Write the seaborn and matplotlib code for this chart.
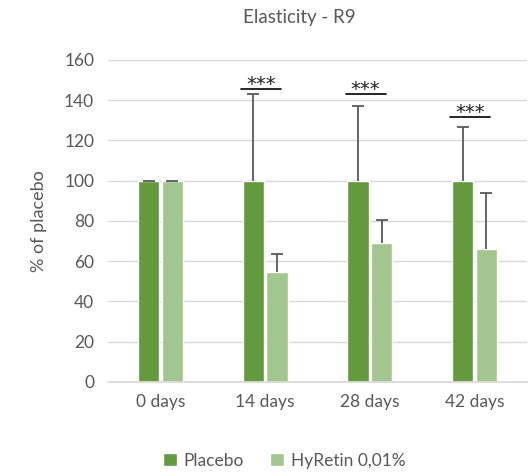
import matplotlib
matplotlib.use("Agg")
import matplotlib.pyplot as plt
import seaborn as sns
import pandas as pd
import numpy as np

categories = ["0 days", "14 days", "28 days", "42 days"]
placebo = [100, 100, 100, 100]
placebo_err = [0, 43.3, 37.0, 26.5]
hyretin = [100, 54.6, 68.8, 66.0]
hyretin_err = [0, 9.1, 11.8, 27.7]
series = ["Placebo", "HyRetin 0,01%"]
sig_levels = [None, 145.6, 143.3, 131.7]
sig_text = "***"

sns.set_theme(style="white")
plt.rcParams['font.family'] = ['Lato', 'DejaVu Sans']

df = pd.DataFrame({
    "cat": categories * 2,
    "val": placebo + hyretin,
    "series": [series[0]] * 4 + [series[1]] * 4,
})

colors = ["#639A3E", "#A3C58F"]
fig = plt.figure(figsize=(5.3, 4.72), dpi=100)
ax = fig.add_axes([0.204, 0.191, 0.79, 0.682])
width = 0.45
sns.barplot(data=df, x="cat", y="val", hue="series", palette=colors,
            width=width, gap=0.1, errorbar=None, ax=ax, zorder=2, saturation=1)

x = np.arange(len(categories))
off = width / 4
for xs, vals, errs in [(x - off, placebo, placebo_err), (x + off, hyretin, hyretin_err)]:
    _, caps, _ = ax.errorbar(xs, vals, yerr=[np.zeros(4), errs], fmt="none",
                             ecolor="#595959", elinewidth=1.3, capsize=4,
                             capthick=1.3, zorder=3)
    caps[0].remove()

for i, lvl in enumerate(sig_levels):
    if lvl is None:
        continue
    cx = i - 0.04
    ax.plot([cx - 0.19, cx + 0.19], [lvl, lvl], color="black", lw=1.2, zorder=4)
    ax.text(cx, lvl - 2.5, sig_text, ha="center", va="bottom", fontsize=14,
            color="#222222", zorder=4, family="DejaVu Sans")

ax.set_ylim(0, 160)
ax.set_xlim(-0.5, 3.5)
ax.set_yticks(range(0, 161, 20))
ax.yaxis.grid(True, color="#D9D9D9", lw=1)
ax.set_axisbelow(True)
for s in ["top", "right", "left"]:
    ax.spines[s].set_visible(False)
ax.spines["bottom"].set_color("#D9D9D9")
ax.tick_params(axis="both", colors="#595959", labelsize=12.5, length=0)
ax.tick_params(axis="x", pad=9)
ax.tick_params(axis="y", pad=10)
ax.set_xlabel("")
ax.set_ylabel("% of placebo", color="#595959", fontsize=13, labelpad=12)
fig.text(0.565, 0.962, "Elasticity - R9", ha="center", va="center",
         fontsize=13.5, color="#595959")
ax.legend(loc="center", bbox_to_anchor=(0.42, -0.245), ncol=2, frameon=False,
          fontsize=12.5, handlelength=0.8, handleheight=0.8, columnspacing=1.5,
          labelcolor="#595959", handletextpad=0.4)
fig.savefig("out.png", dpi=100)
